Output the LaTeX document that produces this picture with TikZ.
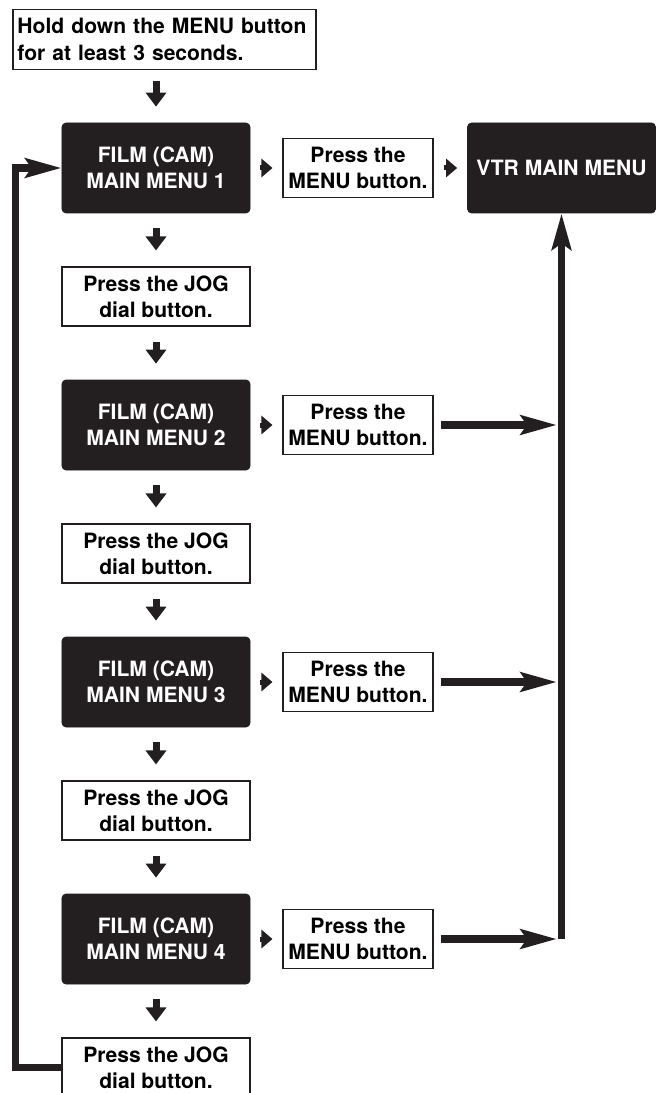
\documentclass[tikz,border=0pt]{standalone}
\usepackage{fontspec}
\setmainfont{TeX Gyre Heros}
\usepackage{xcolor}
\usepackage{tikz}
\usetikzlibrary{shapes.geometric, arrows, arrows.meta}
\definecolor{menublack}{HTML}{231F20}
\tikzstyle{holdbox} = [rectangle, text width=5.88cm, inner xsep=0.09cm, minimum height=1.2cm, align=left, draw=menublack, line width=0.6pt, fill=white]
\tikzstyle{menubox} = [rectangle, rounded corners=0.08cm, minimum width=3.76cm, minimum height=1.8cm, align=center, draw=menublack, fill=menublack, text=white]
\tikzstyle{pressbox} = [rectangle, minimum width=3cm, minimum height=1.18cm, inner xsep=0.1cm, align=center, draw=menublack, line width=0.6pt, fill=white]
\tikzstyle{jogbox} = [pressbox, minimum width=3.76cm]
\tikzset{
  downarrow/.style={
    line width=0.14cm,
    -{Triangle[length=0.28cm,width=0.4cm]},
    shorten <=0.3cm,
    shorten >=0.32cm,
    draw=menublack
    },
  rightarrow/.style={
    line width=0.1cm,
    -{Triangle[length=0.22cm,width=0.36cm]},
    shorten <=0.2cm,
    shorten >=0.2cm,
    draw=menublack
    },
  bigarrow/.style={
    line width=0.15cm,
    -{Stealth[length=0.72cm,width=0.38cm,inset=0.12cm]},
    draw=menublack
    },
}

\begin{document}
\begin{tikzpicture}[
  node distance=2.57cm,
  every node/.style={font=\fontsize{12}{15}\selectfont\bfseries}
  ]
\useasboundingbox (-3.12,3.36) rectangle (10.12,-18.5);
\node (film1) [menubox] {FILM (CAM)\\MAIN MENU 1};
\node (hold) [holdbox, above of=film1, xshift=0.17cm] {Hold down the MENU button\\for at least 3 seconds.};
\node (jog1) [jogbox, below of=film1] {Press the JOG\\dial button.};
\node (film2) [menubox, below of=jog1] {FILM (CAM)\\MAIN MENU 2};
\node (jog2) [jogbox, below of=film2] {Press the JOG\\dial button.};
\node (film3) [menubox, below of=jog2] {FILM (CAM)\\MAIN MENU 3};
\node (jog3) [jogbox, below of=film3] {Press the JOG\\dial button.};
\node (film4) [menubox, below of=jog3] {FILM (CAM)\\MAIN MENU 4};
\node (jog4) [jogbox, below of=film4] {Press the JOG\\dial button.};

\node (press1) [pressbox, right of=film1, xshift=1.47cm] {Press the\\MENU button.};
\node (press2) [pressbox, right of=film2, xshift=1.47cm] {Press the\\MENU button.};
\node (press3) [pressbox, right of=film3, xshift=1.47cm] {Press the\\MENU button.};
\node (press4) [pressbox, right of=film4, xshift=1.47cm] {Press the\\MENU button.};
\node (vtr) [menubox, right of=press1, xshift=1.5cm] {VTR MAIN MENU};

\coordinate (join2) at (vtr.south |- press2.east);
\coordinate (join3) at (vtr.south |- press3.east);
\coordinate (join4) at (vtr.south |- press4.east);

% down the left column
\draw [downarrow, shorten <=0.22cm, shorten >=0.32cm] (film1 |- hold.south) -- (film1.north);
\draw [downarrow] (film1) -- (jog1);
\draw [downarrow] (jog1) -- (film2);
\draw [downarrow] (film2) -- (jog2);
\draw [downarrow] (jog2) -- (film3);
\draw [downarrow] (film3) -- (jog3);
\draw [downarrow] (jog3) -- (film4);
\draw [downarrow] (film4) -- (jog4);

% MENU button
\draw [rightarrow] (film1) -- (press1);
\draw [rightarrow] (press1) -- (vtr);
\draw [rightarrow] (film2) -- (press2);
\draw [rightarrow] (film3) -- (press3);
\draw [rightarrow] (film4) -- (press4);

\draw [bigarrow, shorten <=0.14cm, shorten >=0.09cm] (press2) -- (join2);
\draw [bigarrow, shorten <=0.14cm, shorten >=0.09cm] (press3) -- (join3);
\draw [bigarrow, shorten <=0.14cm, shorten >=0.09cm] (press4) -- (join4);
\draw [bigarrow] (join4) -- (vtr.south);

% back to menu 1
\draw [bigarrow] (jog4.west) -- ++(-0.92cm,0) |- (film1.west);
\end{tikzpicture}
\end{document}
